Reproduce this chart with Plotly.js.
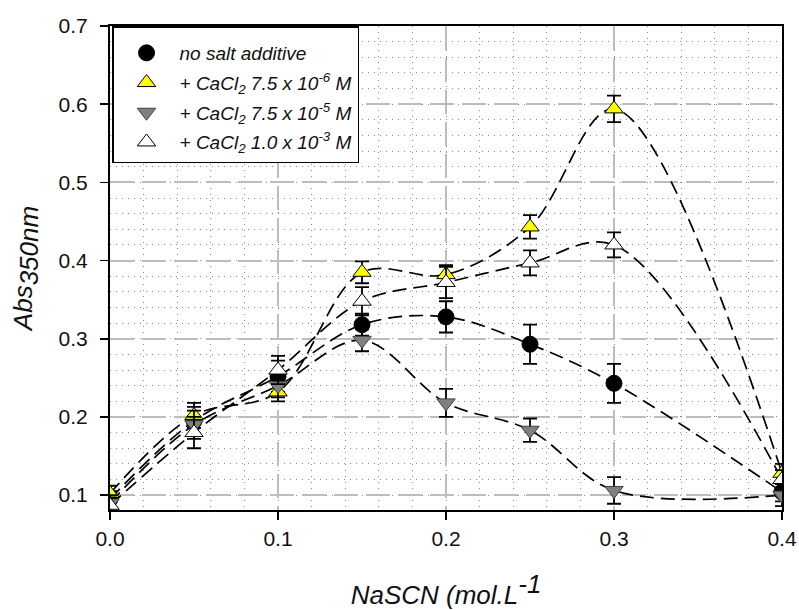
<!DOCTYPE html>
<html>
<head>
<meta charset="utf-8">
<script src="https://cdn.plot.ly/plotly-3.0.1.min.js"></script>
<style>html,body{margin:0;padding:0;background:#fff;}#chart{width:799px;height:610px;}</style>
</head>
<body>
<div id="chart"></div>
<script>
// NaSCN concentration (mol/L)
const nascn = [0, 0.05, 0.1, 0.15, 0.2, 0.25, 0.3, 0.4];

const seriesNames = [
  'no salt additive',
  '+ CaCl<sub>2</sub> 7.5 x 10<sup>-6</sup> M',
  '+ CaCl<sub>2</sub> 7.5 x 10<sup>-5</sup> M',
  '+ CaCl<sub>2</sub> 1.0 x 10<sup>-3</sup> M'
];

const noSalt     = [0.095, 0.195, 0.252, 0.318, 0.328, 0.293, 0.243, 0.104];
const noSaltErr  = [0.010, 0.018, 0.020, 0.014, 0.020, 0.025, 0.025, 0.012];
const ca75e6     = [0.102, 0.202, 0.232, 0.385, 0.382, 0.443, 0.594, 0.128];
const ca75e6Err  = [0.010, 0.016, 0.012, 0.014, 0.012, 0.015, 0.017, 0.012];
const ca75e5     = [0.090, 0.190, 0.240, 0.298, 0.218, 0.183, 0.106, 0.100];
const ca75e5Err  = [0.010, 0.018, 0.015, 0.014, 0.018, 0.015, 0.017, 0.014];
const ca1e3      = [0.087, 0.180, 0.260, 0.348, 0.372, 0.397, 0.420, 0.120];
const ca1e3Err   = [0.010, 0.020, 0.018, 0.018, 0.020, 0.016, 0.016, 0.012];

const values = [noSalt, ca75e6, ca75e5, ca1e3];
const errors = [noSaltErr, ca75e6Err, ca75e5Err, ca1e3Err];
const markerSymbols = ['circle', 'triangle-up', 'triangle-down', 'triangle-up'];
const markerColors = ['#000000', '#ffff00', '#808080', '#ffffff'];
const markerLines = ['#000000', '#000000', '#404040', '#000000'];

const FONT = 'Liberation Sans, Arial, sans-serif';
const traces = [];
// dashed spline curves (behind markers)
values.forEach(function (v) {
  traces.push({
    x: nascn, y: v, type: 'scatter', mode: 'lines', showlegend: false, hoverinfo: 'skip',
    line: {shape: 'spline', smoothing: 1, color: '#000', width: 1.7, dash: '14px,7px'}
  });
});
// markers with error bars
values.forEach(function (v, i) {
  traces.push({
    x: nascn, y: v, type: 'scatter', mode: 'markers', name: seriesNames[i],
    legendgroup: 'g' + i,
    marker: {symbol: markerSymbols[i], size: 16, color: markerColors[i],
             line: {color: markerLines[i], width: 1}},
    error_y: {type: 'data', array: errors[i], visible: true, color: '#000', thickness: 1.8, width: 7}
  });
});

const layout = {
  width: 799, height: 610,
  margin: {l: 110, r: 17, t: 26, b: 100},
  paper_bgcolor: '#fff', plot_bgcolor: '#fff',
  font: {family: FONT, color: '#111'},
  showlegend: true,
  legend: {
    x: 0.003, y: 1, xanchor: 'left', yanchor: 'top',
    bgcolor: '#fff', bordercolor: '#000', borderwidth: 1.5,
    font: {family: FONT, size: 19, style: 'italic', color: '#111'},
    title: {text: ' ', font: {size: 5}},
    itemwidth: 56, traceorder: 'grouped', tracegroupgap: 2,
    entrywidth: 252, entrywidthmode: 'pixels'
  },
  xaxis: {
    range: [0, 0.4], tickvals: [0, 0.1, 0.2, 0.3, 0.4], ticktext: ['0.0', '0.1', '0.2', '0.3', '0.4'],
    ticks: 'outside', ticklen: 8, tickwidth: 1.5, tickcolor: '#000',
    showline: true, linecolor: '#000', linewidth: 2, mirror: true,
    showgrid: true, gridcolor: '#bdbdbd', gridwidth: 2, griddash: '24px,8px',
    minor: {dtick: 0.02, tick0: 0, showgrid: true, gridcolor: '#8a8a8a', gridwidth: 1, griddash: '1px,5px'},
    zeroline: false, tickfont: {family: FONT, size: 21, color: '#111'}, ticklabelstandoff: 1,
    title: {text: 'NaSCN (mol.L<sup><span style="font-size:26px">-1</span></sup>', standoff: 38,
            font: {family: FONT, size: 26, style: 'italic', color: '#111'}}
  },
  yaxis: {
    range: [0.081, 0.7], tickvals: [0.1, 0.2, 0.3, 0.4, 0.5, 0.6, 0.7],
    ticktext: ['0.1', '0.2', '0.3', '0.4', '0.5', '0.6', '0.7'],
    ticks: 'outside', ticklen: 8, tickwidth: 1.5, tickcolor: '#000',
    showline: true, linecolor: '#000', linewidth: 2, mirror: true,
    showgrid: true, gridcolor: '#bdbdbd', gridwidth: 2, griddash: '24px,8px',
    minor: {dtick: 0.02, tick0: 0, showgrid: true, gridcolor: '#8a8a8a', gridwidth: 1, griddash: '1px,5px'},
    zeroline: false, tickfont: {family: FONT, size: 21, color: '#111'}, ticklabelstandoff: 8,
    title: {text: 'Abs<sub><span style="font-size:26px">350nm</span></sub>', standoff: 18,
            font: {family: FONT, size: 26, style: 'italic', color: '#111'}}
  }
};

Plotly.newPlot('chart', traces, layout, {displayModeBar: false, staticPlot: true});
</script>
</body>
</html>
